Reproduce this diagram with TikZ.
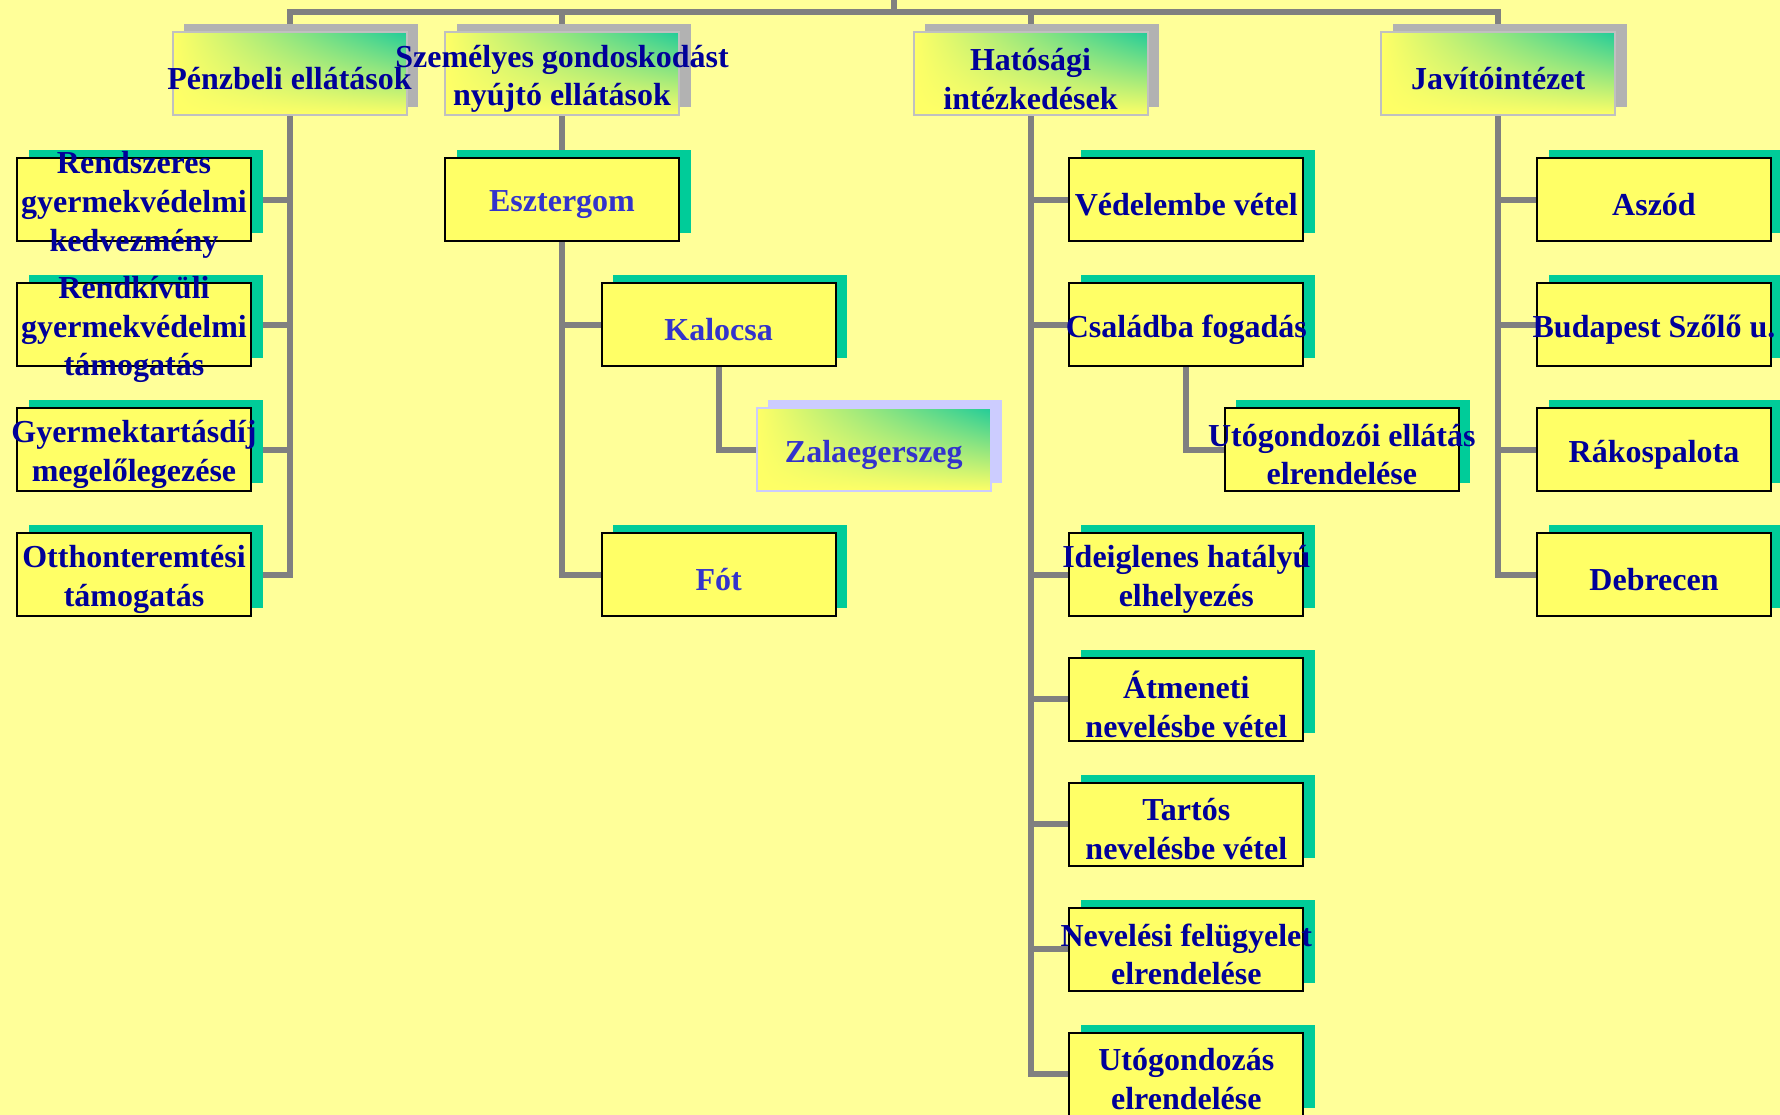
\documentclass[tikz,border=0pt]{standalone}
\usepackage{fontspec}
\setmainfont{Liberation Serif}
\usetikzlibrary{positioning,shadows,shadings,backgrounds}

\definecolor{paper}{HTML}{FFFF99}
\definecolor{boxyellow}{HTML}{FFFF66}
\definecolor{tealshadow}{HTML}{00CC99}
\definecolor{headgreen}{HTML}{22CC99}
\definecolor{greyshadow}{HTML}{B2B2B2}
\definecolor{headline}{HTML}{C0C0C0}
\definecolor{lavender}{HTML}{CCCCFF}
\definecolor{navy}{HTML}{000099}
\definecolor{townblue}{HTML}{3333CC}
\definecolor{conngrey}{HTML}{808080}

\tikzset{
  txt/.style={align=center,text=navy,inner sep=0pt,yshift=-5pt,
    font=\fontsize{32}{38.6}\selectfont\bfseries},
  box/.style={draw=black,line width=2pt,fill=boxyellow,inner sep=0pt,
    minimum width=234pt,minimum height=83pt,
    drop shadow={shadow xshift=11.5pt,shadow yshift=8pt,fill=tealshadow,opacity=1}},
  kid/.style={box,label={[txt]center:#1}},
  town/.style={box,label={[txt,text=townblue]center:#1}},
  headbase/.style={draw=headline,line width=2pt,shade,
    upper right=headgreen,upper left=boxyellow,lower left=boxyellow,lower right=boxyellow,
    inner sep=0pt,minimum width=234pt,minimum height=83pt},
  head/.style={headbase,
    drop shadow={shadow xshift=11.5pt,shadow yshift=8pt,fill=greyshadow,opacity=1},
    label={[txt]center:#1}},
  zala/.style={headbase,draw=lavender,
    drop shadow={shadow xshift=11.5pt,shadow yshift=8pt,fill=lavender,opacity=1},
    label={[txt,text=townblue]center:#1}},
  conn/.style={draw=conngrey,line width=6pt}
}

\begin{document}
\begin{tikzpicture}[x=1pt,y=-1pt,node distance=124.9pt,on grid]
  \useasboundingbox (0,0) rectangle (1780,1115);

  % first level
  \node[head={P\'enzbeli ell\'at\'asok}] (penz) at (289.5,73.8) {};
  \node[head={Szem\'elyes gondoskod\'ast\\ny\'ujt\'o ell\'at\'asok}] (szem) at (562,73.8) {};
  \node[head={Hat\'os\'agi\\int\'ezked\'esek}] (hat) at (1030.5,73.8) {};
  \node[head={Jav\'it\'oint\'ezet}] (jav) at (1498.2,73.8) {};

  % ellatasok
  \node[kid={Rendszeres\\gyermekv\'edelmi\\kedvezm\'eny}] (rgk) at (134,199.8) {};
  \node[kid={Rendk\'iv\"uli\\gyermekv\'edelmi\\t\'amogat\'as}] (rgt) [below=of rgk] {};
  \node[kid={Gyermektart\'asd\'ij\\megel\H{o}legez\'ese}] (gym) [below=of rgt] {};
  \node[kid={Otthonteremt\'esi\\t\'amogat\'as}] (ott) [below=of gym] {};

  % gondoskodas
  \node[town=Esztergom] (esz) at (562,199.8) {};
  \node[town=Kalocsa] (kal) [below right=124.9pt and 156.6pt of esz] {};
  \node[zala=Zalaegerszeg] (zal) [below right=124.9pt and 155.2pt of kal] {};
  \node[town=F\'ot] (fot) [below=249.8pt of kal] {};

  % hatosagi intezkedesek
  \node[kid={V\'edelembe v\'etel}] (ved) at (1186.3,199.8) {};
  \node[kid={Csal\'adba fogad\'as}] (csa) [below=of ved] {};
  \node[kid={Ut\'ogondoz\'oi ell\'at\'as\\elrendel\'ese}] (uge) [below right=124.9pt and 155.5pt of csa] {};
  \node[kid={Ideiglenes hat\'aly\'u\\elhelyez\'es}] (ide) [below=249.8pt of csa] {};
  \node[kid={\'Atmeneti\\nevel\'esbe v\'etel}] (atm) [below=of ide] {};
  \node[kid={Tart\'os\\nevel\'esbe v\'etel}] (tar) [below=of atm] {};
  \node[kid={Nevel\'esi fel\"ugyelet\\elrendel\'ese}] (nev) [below=of tar] {};
  \node[kid={Ut\'ogondoz\'as\\elrendel\'ese}] (ugz) [below=of nev] {};

  % javitointezetek
  \node[kid=Asz\'od] (asz) at (1654,199.8) {};
  \node[kid={Budapest Sz\H{o}l\H{o} u.}] (bud) [below=of asz] {};
  \node[kid=R\'akospalota] (rak) [below=of bud] {};
  \node[kid=Debrecen] (deb) [below=of rak] {};

  \begin{pgfonlayer}{background}
    \fill[paper] (0,0) rectangle (1780,1115);
    \coordinate (root) at (893.7,-10);
    \coordinate (bar) at (893.7,11.7);
    \draw[conn] (root) -- (bar) -| (penz.north);
    \draw[conn] (bar) -| (szem.north);
    \draw[conn] (bar) -| (hat.north);
    \draw[conn] (bar) -| (jav.north);
    \foreach \k in {rgk,rgt,gym,ott} \draw[conn] (penz.south) |- (\k.east);
    \draw[conn] (szem.south) -- (esz.north);
    \draw[conn] (esz.south) |- (kal.west);
    \draw[conn] (esz.south) |- (fot.west);
    \draw[conn] (kal.south) |- (zal.west);
    \foreach \k in {ved,csa,ide,atm,tar,nev,ugz} \draw[conn] (hat.south) |- (\k.west);
    \draw[conn] (csa.south) |- (uge.west);
    \foreach \k in {asz,bud,rak,deb} \draw[conn] (jav.south) |- (\k.west);
  \end{pgfonlayer}
\end{tikzpicture}
\end{document}
